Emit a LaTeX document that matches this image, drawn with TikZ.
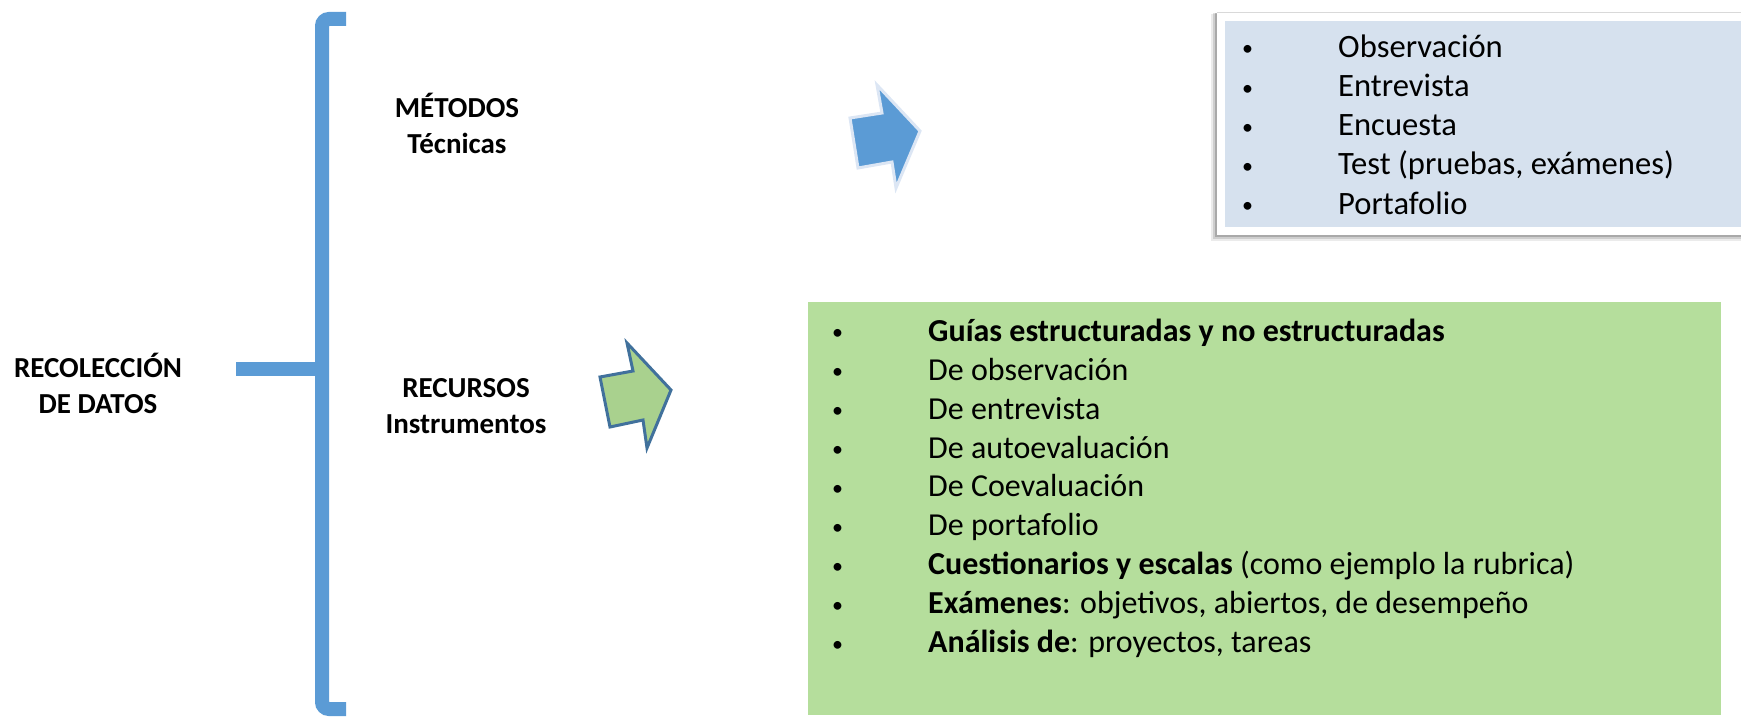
\documentclass[tikz,border=0pt]{standalone}
\usepackage{fontspec}
\setmainfont{Carlito}
\definecolor{bracketblue}{HTML}{5B9BD5}
\definecolor{listblue}{HTML}{D6E1EE}
\definecolor{listgreen}{HTML}{B5DE9C}
\definecolor{arrowgreen}{HTML}{A9D18E}
\definecolor{arrowedge}{HTML}{41719C}
\definecolor{arrowglow}{HTML}{DCE6F4}
\tikzset{
  lbl/.style={font=\fontsize{29}{36}\selectfont\bfseries, align=center, inner sep=0pt},
  item/.style={font=\fontsize{32}{38}\selectfont, anchor=mid west, inner sep=0pt},
  brace/.style={draw=bracketblue, line width=14pt},
}
\newcommand{\bulitem}[1]{\makebox[96pt][l]{\raisebox{1.5pt}{\fontsize{22}{22}\selectfont\textbullet}}#1}
\begin{document}
\begin{tikzpicture}[x=1pt,y=-1pt]
\useasboundingbox (0,0) rectangle (1741,719);
% left title
\node[lbl] (rec) at (98,383) {RECOLECCIÓN\\DE DATOS};
% bracket
\coordinate (stubL) at (236,369);
\coordinate (stubR) at (322,369);
\draw[brace, line cap=butt] (stubL) -- (stubR);
\coordinate (bt) at (346,19);
\coordinate (bb) at (346,709);
\draw[brace, rounded corners=7pt] (bt) -- (322,19) -- (322,709) -- (bb);
% labels
\node[lbl] (met) at (457,123) {MÉTODOS\\Técnicas};
\node[lbl] (recu) at (466,406) {RECURSOS\\Instrumentos};
% blue arrow
\draw[arrowglow, line width=3pt, fill=bracketblue, line join=miter]
  (877,85) -- (882,113) -- (850,118) -- (858,168) -- (892,162) -- (896,188) -- (920,131) -- cycle;
% green arrow
\draw[arrowedge, line width=3pt, fill=arrowgreen, line join=miter]
  (627,343) -- (633,371) -- (600,377) -- (610,427) -- (643,420) -- (647,448) -- (671,390) -- cycle;
% top list box with shadow
\foreach \o/\op in {6/0.08,4/0.12,2/0.18}{
  \fill[black, opacity=\op] (1217-\o,12+\o*0.3) rectangle (1741,235+\o);
}
\fill[white] (1217,12) rectangle (1741,235);
\draw[black!15, line width=0.8pt] (1217,12) -- (1741,12);
\fill[listblue] (1225,21) rectangle (1741,227);
\foreach \txt [count=\i] in {Observación, Entrevista, Encuesta, {Test (pruebas, exámenes)}, Portafolio}{
  \node[item, font=\fontsize{32.6}{38}\selectfont] (m\i) at (1242, 55+39.2*\i-39.2) {\bulitem{\txt}};
}
% green list box
\fill[listgreen] (808,302) rectangle (1721,715);
\foreach \txt [count=\i] in {
  {\textbf{Guías estructuradas y no estructuradas}},
  {De observación},
  {De entrevista},
  {De autoevaluación},
  {De Coevaluación},
  {De portafolio},
  {\textbf{Cuestionarios y escalas} (como ejemplo la rubrica)},
  {\textbf{Exámenes}: objetivos, abiertos, de desempeño},
  {\textbf{Análisis de}: proyectos, tareas}}{
  \node[item] (g\i) at (832, 339+38.9*\i-38.9) {\bulitem{\txt}};
}
\end{tikzpicture}
\end{document}
